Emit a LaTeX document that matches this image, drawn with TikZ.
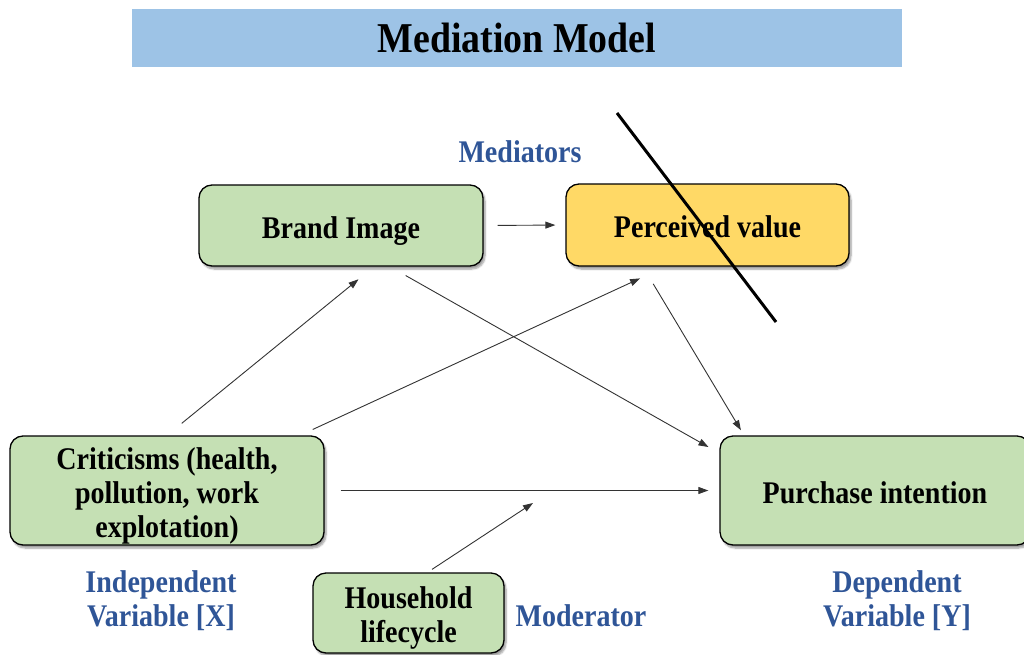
\documentclass[tikz,border=0pt]{standalone}
\usepackage{fontspec}
\setmainfont{Liberation Serif}[FakeStretch=0.89]
\usetikzlibrary{shadows.blur,arrows.meta,calc}
\definecolor{titleblue}{HTML}{9DC3E6}
\definecolor{boxgreen}{HTML}{C5E0B4}
\definecolor{boxyellow}{HTML}{FFD966}
\definecolor{labelblue}{HTML}{2F5597}
\definecolor{arrowgray}{HTML}{333333}
\newcommand{\topstrut}{\rule[-7pt]{0pt}{39pt}}
\newcommand{\botstrut}{\rule[-7pt]{0pt}{7pt}}
\begin{document}
\begin{tikzpicture}[x=1pt,y=-1pt,
  box/.style={draw=black, line width=1.3pt, rounded corners=13pt, fill=boxgreen,
    align=center, inner sep=0pt, font=\fontsize{31.5}{34}\selectfont\bfseries,
    blur shadow={shadow blur steps=6, shadow xshift=2pt, shadow yshift=-3pt, shadow opacity=40}},
  lbl/.style={align=center, text=labelblue, inner sep=0pt, font=\fontsize{31.5}{34}\selectfont\bfseries},
  arr/.style={draw=arrowgray, line width=0.9pt, -{Triangle[length=10pt,width=7pt]}}]
\useasboundingbox (0,0) rectangle (1024,655);

% title
\node[fill=titleblue, minimum width=770pt, minimum height=58pt, inner sep=0pt,
      font=\fontsize{42.5}{48}\selectfont\bfseries] (title) at (517,38) {Mediation Model};

% boxes
\node[box, minimum width=284pt, minimum height=81pt] (brand) at (341,225.5) {\topstrut Brand Image\botstrut};
\node[box, fill=boxyellow, minimum width=283pt, minimum height=82pt] (perc) at (707.5,225) {\topstrut Perceived value\botstrut};
\node[box, minimum width=314pt, minimum height=109pt] (crit) at (167,490.5) {\topstrut Criticisms (health,\\pollution, work\\explotation)\botstrut};
\node[box, minimum width=310pt, minimum height=109pt] (purch) at (875,490.5) {\topstrut Purchase intention\botstrut};
\node[box, minimum width=191pt, minimum height=80pt] (house) at (408.5,613) {\topstrut Household\\lifecycle\botstrut};

% labels
\node[lbl] (medlbl) at (520,152) {Mediators};
\node[lbl] (indlbl) at (161,601) {Independent\\Variable [X]};
\node[lbl] (modlbl) at (581,616) {Moderator};
\node[lbl] (deplbl) at (897,601) {Dependent\\Variable [Y]};

% connectors
\draw[arr, shorten <=14pt, shorten >=10pt] (brand.east) -- (perc.west);
\draw[arr, shorten <=19pt, shorten >=20pt] (crit.north) -- ($(brand.south)+(33,0)$);
\draw[arr, shorten <=14pt, shorten >=28pt] ($(crit.north)+(133,0)$) -- ($(perc.south)+(-42,0)$);
\draw[arr, shorten <=18pt, shorten >=12.5pt] ($(brand.south)+(49,0)$) -- ($(purch.west)+(0,-37.3)$);
\draw[arr, shorten <=20pt, shorten >=6pt] ($(perc.south)+(-64.6,0)$) -- ($(purch.north)+(-131,0)$);
\draw[arr, shorten <=16pt, shorten >=11pt] (crit.east) -- (purch.west);
\coordinate (modpt) at (533,503);
\draw[arr, shorten <=5.4pt] ($(house.north)+(19,0)$) -- (modpt);

% crossing-out slash
\draw[black, line width=3pt] (617,113) -- (776,322);
\end{tikzpicture}
\end{document}
